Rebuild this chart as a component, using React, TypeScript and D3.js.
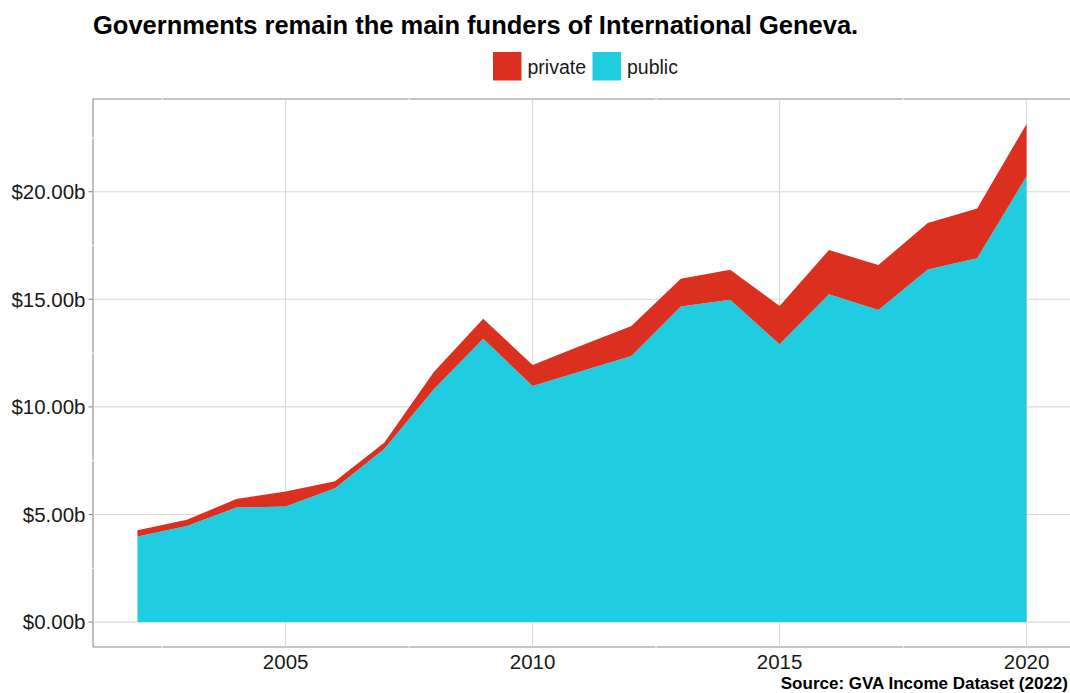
import React from "react";
import * as d3 from "d3";

const years = [2002, 2003, 2004, 2005, 2006, 2007, 2008, 2009, 2010, 2011, 2012, 2013, 2014, 2015, 2016, 2017, 2018, 2019, 2020];
const publicValues = [3.98, 4.47, 5.32, 5.37, 6.22, 8.06, 10.82, 13.17, 10.97, 11.67, 12.36, 14.66, 14.98, 12.91, 15.23, 14.5, 16.39, 16.91, 20.72];
const privateValues = [0.29, 0.28, 0.4, 0.7, 0.33, 0.28, 0.8, 0.93, 0.98, 1.19, 1.4, 1.3, 1.39, 1.78, 2.06, 2.09, 2.15, 2.31, 2.43];
const yTicks = [0, 5, 10, 15, 20];
const yMinor = [2.5, 7.5, 12.5, 17.5, 22.5];
const xTicks = [2005, 2010, 2015, 2020];
const xMinor = [2002.5, 2007.5, 2012.5, 2017.5];
const legendItems = ["private", "public"];

const title = "Governments remain the main funders of International Geneva.";
const caption = "Source: GVA Income Dataset (2022)";

const RED = "#DB3020";
const CYAN = "#20CDE0";
const FONT = "'Liberation Sans', Arial, sans-serif";

export default function App() {
  const W = 1070;
  const H = 693;
  const left = 93;
  const right = 1071;
  const top = 99;
  const bottom = 647;

  const rows = years.map((y, i) => ({
    year: y,
    pub: publicValues[i],
    tot: publicValues[i] + privateValues[i],
  }));
  const maxTot = d3.max(rows, (r) => r.tot) as number;
  const xMin = d3.min(years) as number;
  const xMax = d3.max(years) as number;
  const xPad = (xMax - xMin) * 0.05;
  const yPad = maxTot * 0.05;

  const x = d3.scaleLinear().domain([xMin - xPad, xMax + xPad]).range([left, right]);
  const y = d3.scaleLinear().domain([-yPad, maxTot + yPad]).range([bottom, top]);

  const publicArea = d3
    .area<any>()
    .x((d) => x(d.year))
    .y0(() => y(0))
    .y1((d) => y(d.pub));
  const privateArea = d3
    .area<any>()
    .x((d) => x(d.year))
    .y0((d) => y(d.pub))
    .y1((d) => y(d.tot));

  const fmt = (v: number) => "$" + d3.format(".2f")(v) + "b";
  const axisColor = "#8a8a8a";
  const gridColor = "#d9d9d9";

  return (
    <div style={{ position: "absolute", left: 0, top: 0 }}>
      <svg width={W} height={H} style={{ display: "block", background: "#fff" }}>
        <text x={93} y={34} fontFamily={FONT} fontWeight="bold" fontSize={25.5} fill="#000">
          {title}
        </text>

        {/* legend */}
        {legendItems.map((name, i) => {
          const lx = i === 0 ? 493 : 592.5;
          return (
            <g key={name}>
              <rect x={lx} y={52} width={28.5} height={28.5} fill={name === "private" ? RED : CYAN} />
              <text x={lx + 34.5} y={73.5} fontFamily={FONT} fontSize={19.5} fill="#1a1a1a">
                {name}
              </text>
            </g>
          );
        })}

        {/* panel border */}
        <line x1={left} x2={W} y1={top} y2={top} stroke={axisColor} strokeWidth={1.1} />
        <line x1={left} x2={left} y1={top} y2={bottom} stroke={axisColor} strokeWidth={1.1} />
        <line x1={left} x2={W} y1={bottom} y2={bottom} stroke={axisColor} strokeWidth={1.1} />

        {/* minor grid (white) */}
        {yMinor.map((v) => (
          <line key={"ym" + v} x1={left - 0.6} x2={W} y1={y(v)} y2={y(v)} stroke="#fff" strokeWidth={1.2} />
        ))}
        {xMinor.map((v) => (
          <line key={"xm" + v} x1={x(v)} x2={x(v)} y1={top - 0.6} y2={bottom + 0.6} stroke="#fff" strokeWidth={1.2} />
        ))}

        {/* major grid */}
        {yTicks.map((v) => (
          <line key={"yg" + v} x1={left} x2={W} y1={y(v)} y2={y(v)} stroke={gridColor} strokeWidth={1.1} />
        ))}
        {xTicks.map((v) => (
          <line key={"xg" + v} x1={x(v)} x2={x(v)} y1={top} y2={bottom} stroke={gridColor} strokeWidth={1.1} />
        ))}

        {/* areas */}
        <path d={publicArea(rows) as string} fill={CYAN} />
        <path d={privateArea(rows) as string} fill={RED} />

        {/* y axis ticks and labels */}
        {yTicks.map((v) => (
          <g key={"yt" + v}>
            <line x1={left - 4.5} x2={left} y1={y(v)} y2={y(v)} stroke={axisColor} strokeWidth={1.1} />
            <text
              x={left - 7.5}
              y={y(v)}
              dy="0.36em"
              textAnchor="end"
              fontFamily={FONT}
              fontSize={20.5}
              fill="#1a1a1a"
            >
              {fmt(v)}
            </text>
          </g>
        ))}

        {/* x labels */}
        {xTicks.map((v) => (
          <text
            key={"xt" + v}
            x={x(v)}
            y={668.5}
            textAnchor="middle"
            fontFamily={FONT}
            fontSize={20.5}
            fill="#1a1a1a"
          >
            {v}
          </text>
        ))}

        <text x={1068} y={688.5} textAnchor="end" fontFamily={FONT} fontWeight="bold" fontSize={17} fill="#000">
          {caption}
        </text>
      </svg>
    </div>
  );
}
